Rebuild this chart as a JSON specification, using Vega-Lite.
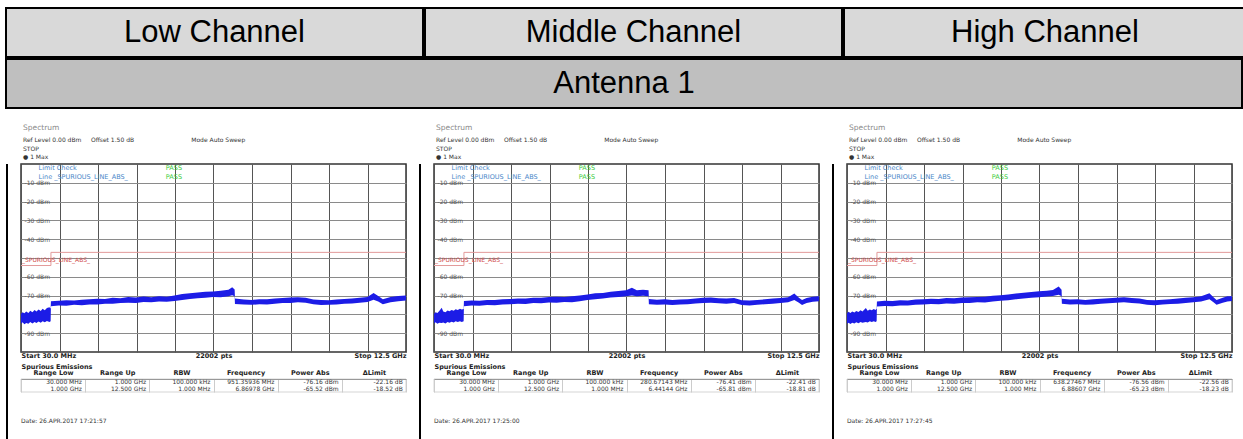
{
  "$schema": "https://vega.github.io/schema/vega-lite/v6.json",
  "padding": {"left": 5, "top": 7, "right": 0, "bottom": 0},
  "background": "white",
  "spacing": 0,
  "config": {
    "title": {"anchor": "start", "font": "DejaVu Sans", "fontSize": 7.5, "fontWeight": "normal", "color": "#8a8a8a", "lineHeight": 13, "offset": 0, "subtitleFont": "DejaVu Sans", "subtitleFontSize": 6, "subtitleColor": "#333333", "subtitleLineHeight": 8.5, "subtitlePadding": 6, "dx": 4},
    "axis": {"labelFont": "DejaVu Sans", "titleFont": "DejaVu Sans"},
    "text": {"font": "DejaVu Sans"}
  },
  "datasets": {
    "limit": [{"f": 0.03, "lim": -54}, {"f": 1.0, "lim": -47}, {"f": 12.5, "lim": -47}],
    "emis": [
      {"ch": "L", "r": 1, "Range Low": "30.000 MHz", "Range Up": "1.000 GHz", "RBW": "100.000 kHz", "Frequency": "951.35936 MHz", "Power Abs": "-76.16 dBm", "ΔLimit": "-22.16 dB"},
      {"ch": "L", "r": 2, "Range Low": "1.000 GHz", "Range Up": "12.500 GHz", "RBW": "1.000 MHz", "Frequency": "6.86978 GHz", "Power Abs": "-65.52 dBm", "ΔLimit": "-18.52 dB"},
      {"ch": "M", "r": 1, "Range Low": "30.000 MHz", "Range Up": "1.000 GHz", "RBW": "100.000 kHz", "Frequency": "280.67143 MHz", "Power Abs": "-76.41 dBm", "ΔLimit": "-22.41 dB"},
      {"ch": "M", "r": 2, "Range Low": "1.000 GHz", "Range Up": "12.500 GHz", "RBW": "1.000 MHz", "Frequency": "6.44144 GHz", "Power Abs": "-65.81 dBm", "ΔLimit": "-18.81 dB"},
      {"ch": "H", "r": 1, "Range Low": "30.000 MHz", "Range Up": "1.000 GHz", "RBW": "100.000 kHz", "Frequency": "638.27467 MHz", "Power Abs": "-76.56 dBm", "ΔLimit": "-22.56 dB"},
      {"ch": "H", "r": 2, "Range Low": "1.000 GHz", "Range Up": "12.500 GHz", "RBW": "1.000 MHz", "Frequency": "6.88607 GHz", "Power Abs": "-65.23 dBm", "ΔLimit": "-18.23 dB"}
    ],
    "trace": [
      {"ch":"L","f":0.03,"lo":-85.0,"hi":-79.6},{"ch":"L","f":0.08,"lo":-84.2,"hi":-78.8},{"ch":"L","f":0.14,"lo":-85.2,"hi":-79.4},{"ch":"L","f":0.2,"lo":-84.6,"hi":-78.4},{"ch":"L","f":0.27,"lo":-85.0,"hi":-79.2},{"ch":"L","f":0.33,"lo":-84.1,"hi":-78.0},{"ch":"L","f":0.4,"lo":-84.8,"hi":-78.9},{"ch":"L","f":0.47,"lo":-84.0,"hi":-77.6},{"ch":"L","f":0.53,"lo":-84.6,"hi":-78.5},{"ch":"L","f":0.6,"lo":-83.8,"hi":-77.4},{"ch":"L","f":0.67,"lo":-84.4,"hi":-78.2},{"ch":"L","f":0.73,"lo":-83.6,"hi":-77.0},{"ch":"L","f":0.8,"lo":-84.2,"hi":-77.8},{"ch":"L","f":0.87,"lo":-83.5,"hi":-76.6},{"ch":"L","f":0.95,"lo":-84.0,"hi":-76.2},{"ch":"L","f":0.99,"lo":-83.6,"hi":-76.8},
      {"ch":"L","f":1.0,"lo":-75.6,"hi":-73.0},{"ch":"L","f":1.25,"lo":-75.2,"hi":-72.8},{"ch":"L","f":1.5,"lo":-75.4,"hi":-72.5},{"ch":"L","f":1.75,"lo":-74.9,"hi":-72.6},{"ch":"L","f":2.0,"lo":-75.1,"hi":-72.2},{"ch":"L","f":2.25,"lo":-74.7,"hi":-72.0},{"ch":"L","f":2.5,"lo":-74.8,"hi":-71.7},{"ch":"L","f":2.75,"lo":-74.3,"hi":-71.8},{"ch":"L","f":3.0,"lo":-74.4,"hi":-71.2},{"ch":"L","f":3.25,"lo":-74.0,"hi":-71.4},{"ch":"L","f":3.5,"lo":-73.8,"hi":-70.8},{"ch":"L","f":3.75,"lo":-73.9,"hi":-71.0},{"ch":"L","f":4.0,"lo":-73.4,"hi":-70.5},{"ch":"L","f":4.25,"lo":-73.5,"hi":-70.9},{"ch":"L","f":4.5,"lo":-73.2,"hi":-70.3},{"ch":"L","f":4.75,"lo":-73.3,"hi":-70.6},{"ch":"L","f":5.0,"lo":-72.9,"hi":-69.9},{"ch":"L","f":5.25,"lo":-72.3,"hi":-69.2},{"ch":"L","f":5.5,"lo":-71.8,"hi":-68.8},{"ch":"L","f":5.75,"lo":-71.4,"hi":-68.4},{"ch":"L","f":6.0,"lo":-71.2,"hi":-67.9},{"ch":"L","f":6.25,"lo":-70.8,"hi":-67.8},{"ch":"L","f":6.5,"lo":-70.9,"hi":-67.4},{"ch":"L","f":6.75,"lo":-70.3,"hi":-66.9},{"ch":"L","f":6.87,"lo":-69.8,"hi":-65.5},{"ch":"L","f":6.95,"lo":-70.4,"hi":-66.8},
      {"ch":"L","f":6.96,"lo":-74.5,"hi":-71.6},{"ch":"L","f":7.25,"lo":-74.7,"hi":-72.1},{"ch":"L","f":7.5,"lo":-74.9,"hi":-72.3},{"ch":"L","f":7.75,"lo":-74.6,"hi":-71.9},{"ch":"L","f":8.0,"lo":-74.8,"hi":-72.0},{"ch":"L","f":8.25,"lo":-74.3,"hi":-71.6},{"ch":"L","f":8.5,"lo":-74.0,"hi":-71.3},{"ch":"L","f":8.75,"lo":-73.9,"hi":-71.0},{"ch":"L","f":9.0,"lo":-73.6,"hi":-70.9},{"ch":"L","f":9.25,"lo":-73.8,"hi":-71.2},{"ch":"L","f":9.5,"lo":-74.6,"hi":-72.1},{"ch":"L","f":9.75,"lo":-75.0,"hi":-72.4},{"ch":"L","f":10.0,"lo":-74.9,"hi":-72.5},{"ch":"L","f":10.25,"lo":-74.7,"hi":-72.1},{"ch":"L","f":10.5,"lo":-74.4,"hi":-71.8},{"ch":"L","f":10.75,"lo":-74.2,"hi":-71.6},{"ch":"L","f":11.0,"lo":-73.8,"hi":-71.2},{"ch":"L","f":11.25,"lo":-73.4,"hi":-70.8},{"ch":"L","f":11.45,"lo":-72.2,"hi":-68.6},{"ch":"L","f":11.6,"lo":-73.2,"hi":-70.2},{"ch":"L","f":11.75,"lo":-74.6,"hi":-72.0},{"ch":"L","f":12.0,"lo":-73.6,"hi":-70.7},{"ch":"L","f":12.25,"lo":-73.0,"hi":-70.2},{"ch":"L","f":12.5,"lo":-72.6,"hi":-70.0},

      {"ch":"M","f":0.03,"lo":-84.8,"hi":-79.8},{"ch":"M","f":0.08,"lo":-84.2,"hi":-78.9},{"ch":"M","f":0.14,"lo":-85.0,"hi":-79.3},{"ch":"M","f":0.2,"lo":-84.4,"hi":-78.2},{"ch":"M","f":0.28,"lo":-84.6,"hi":-76.4},{"ch":"M","f":0.33,"lo":-84.3,"hi":-78.4},{"ch":"M","f":0.4,"lo":-84.8,"hi":-78.8},{"ch":"M","f":0.47,"lo":-84.0,"hi":-77.9},{"ch":"M","f":0.53,"lo":-84.5,"hi":-78.3},{"ch":"M","f":0.6,"lo":-83.9,"hi":-77.6},{"ch":"M","f":0.67,"lo":-84.3,"hi":-78.1},{"ch":"M","f":0.73,"lo":-83.7,"hi":-77.2},{"ch":"M","f":0.8,"lo":-84.1,"hi":-77.7},{"ch":"M","f":0.87,"lo":-83.6,"hi":-77.0},{"ch":"M","f":0.93,"lo":-84.0,"hi":-77.4},{"ch":"M","f":0.99,"lo":-83.7,"hi":-77.1},
      {"ch":"M","f":1.0,"lo":-75.6,"hi":-72.9},{"ch":"M","f":1.25,"lo":-75.3,"hi":-72.6},{"ch":"M","f":1.5,"lo":-75.4,"hi":-72.7},{"ch":"M","f":1.75,"lo":-75.0,"hi":-72.3},{"ch":"M","f":2.0,"lo":-75.1,"hi":-72.4},{"ch":"M","f":2.25,"lo":-74.8,"hi":-71.9},{"ch":"M","f":2.5,"lo":-74.6,"hi":-71.8},{"ch":"M","f":2.75,"lo":-74.4,"hi":-71.5},{"ch":"M","f":3.0,"lo":-74.5,"hi":-71.6},{"ch":"M","f":3.25,"lo":-74.0,"hi":-71.1},{"ch":"M","f":3.5,"lo":-74.1,"hi":-71.2},{"ch":"M","f":3.75,"lo":-73.7,"hi":-70.8},{"ch":"M","f":4.0,"lo":-73.8,"hi":-70.6},{"ch":"M","f":4.25,"lo":-73.4,"hi":-70.7},{"ch":"M","f":4.5,"lo":-73.5,"hi":-70.4},{"ch":"M","f":4.75,"lo":-73.0,"hi":-69.9},{"ch":"M","f":5.0,"lo":-72.4,"hi":-69.4},{"ch":"M","f":5.25,"lo":-71.9,"hi":-68.8},{"ch":"M","f":5.5,"lo":-71.6,"hi":-68.6},{"ch":"M","f":5.75,"lo":-71.0,"hi":-67.9},{"ch":"M","f":6.0,"lo":-70.8,"hi":-67.5},{"ch":"M","f":6.25,"lo":-70.4,"hi":-67.2},{"ch":"M","f":6.44,"lo":-69.9,"hi":-65.8},{"ch":"M","f":6.6,"lo":-70.3,"hi":-67.1},{"ch":"M","f":6.8,"lo":-70.1,"hi":-66.9},{"ch":"M","f":6.98,"lo":-70.4,"hi":-67.2},
      {"ch":"M","f":6.99,"lo":-74.6,"hi":-71.8},{"ch":"M","f":7.25,"lo":-74.9,"hi":-72.2},{"ch":"M","f":7.5,"lo":-74.7,"hi":-72.0},{"ch":"M","f":7.75,"lo":-75.0,"hi":-72.4},{"ch":"M","f":8.0,"lo":-74.8,"hi":-72.1},{"ch":"M","f":8.25,"lo":-74.6,"hi":-71.9},{"ch":"M","f":8.5,"lo":-74.2,"hi":-71.5},{"ch":"M","f":8.75,"lo":-74.0,"hi":-71.2},{"ch":"M","f":9.0,"lo":-73.8,"hi":-71.0},{"ch":"M","f":9.25,"lo":-74.1,"hi":-71.4},{"ch":"M","f":9.5,"lo":-74.3,"hi":-71.6},{"ch":"M","f":9.75,"lo":-74.0,"hi":-71.3},{"ch":"M","f":10.0,"lo":-75.0,"hi":-72.5},{"ch":"M","f":10.25,"lo":-75.2,"hi":-72.6},{"ch":"M","f":10.5,"lo":-74.9,"hi":-72.3},{"ch":"M","f":10.75,"lo":-74.6,"hi":-72.0},{"ch":"M","f":11.0,"lo":-74.3,"hi":-71.6},{"ch":"M","f":11.25,"lo":-73.9,"hi":-71.3},{"ch":"M","f":11.5,"lo":-73.6,"hi":-70.9},{"ch":"M","f":11.7,"lo":-72.3,"hi":-68.9},{"ch":"M","f":11.85,"lo":-73.8,"hi":-71.2},{"ch":"M","f":11.95,"lo":-75.0,"hi":-72.4},{"ch":"M","f":12.1,"lo":-73.9,"hi":-71.3},{"ch":"M","f":12.3,"lo":-73.3,"hi":-70.6},{"ch":"M","f":12.5,"lo":-73.0,"hi":-70.4},

      {"ch":"H","f":0.03,"lo":-85.0,"hi":-79.4},{"ch":"H","f":0.08,"lo":-84.4,"hi":-78.6},{"ch":"H","f":0.14,"lo":-85.1,"hi":-79.2},{"ch":"H","f":0.2,"lo":-84.5,"hi":-78.5},{"ch":"H","f":0.27,"lo":-84.9,"hi":-79.0},{"ch":"H","f":0.33,"lo":-84.2,"hi":-78.2},{"ch":"H","f":0.4,"lo":-84.7,"hi":-78.7},{"ch":"H","f":0.47,"lo":-84.1,"hi":-77.8},{"ch":"H","f":0.53,"lo":-84.5,"hi":-78.4},{"ch":"H","f":0.64,"lo":-84.0,"hi":-76.6},{"ch":"H","f":0.7,"lo":-84.3,"hi":-78.0},{"ch":"H","f":0.77,"lo":-83.7,"hi":-77.4},{"ch":"H","f":0.83,"lo":-84.1,"hi":-77.8},{"ch":"H","f":0.9,"lo":-83.6,"hi":-77.1},{"ch":"H","f":0.95,"lo":-84.0,"hi":-77.6},{"ch":"H","f":0.99,"lo":-83.7,"hi":-77.0},
      {"ch":"H","f":1.0,"lo":-75.8,"hi":-73.1},{"ch":"H","f":1.25,"lo":-75.5,"hi":-72.8},{"ch":"H","f":1.5,"lo":-75.6,"hi":-72.9},{"ch":"H","f":1.75,"lo":-75.2,"hi":-72.5},{"ch":"H","f":2.0,"lo":-75.3,"hi":-72.6},{"ch":"H","f":2.25,"lo":-74.9,"hi":-72.1},{"ch":"H","f":2.5,"lo":-74.7,"hi":-71.9},{"ch":"H","f":2.75,"lo":-74.5,"hi":-71.7},{"ch":"H","f":3.0,"lo":-74.6,"hi":-71.8},{"ch":"H","f":3.25,"lo":-74.2,"hi":-71.3},{"ch":"H","f":3.5,"lo":-74.3,"hi":-71.4},{"ch":"H","f":3.75,"lo":-73.9,"hi":-71.0},{"ch":"H","f":4.0,"lo":-74.0,"hi":-70.9},{"ch":"H","f":4.25,"lo":-73.6,"hi":-70.8},{"ch":"H","f":4.5,"lo":-73.7,"hi":-70.6},{"ch":"H","f":4.75,"lo":-73.2,"hi":-70.1},{"ch":"H","f":5.0,"lo":-72.8,"hi":-69.8},{"ch":"H","f":5.25,"lo":-72.5,"hi":-69.4},{"ch":"H","f":5.5,"lo":-72.0,"hi":-68.9},{"ch":"H","f":5.75,"lo":-71.6,"hi":-68.5},{"ch":"H","f":6.0,"lo":-71.2,"hi":-68.1},{"ch":"H","f":6.25,"lo":-70.9,"hi":-67.7},{"ch":"H","f":6.5,"lo":-70.5,"hi":-67.4},{"ch":"H","f":6.7,"lo":-70.2,"hi":-67.0},{"ch":"H","f":6.886,"lo":-69.6,"hi":-65.2},{"ch":"H","f":6.98,"lo":-70.3,"hi":-66.9},
      {"ch":"H","f":6.99,"lo":-74.4,"hi":-71.7},{"ch":"H","f":7.25,"lo":-74.8,"hi":-72.1},{"ch":"H","f":7.5,"lo":-74.6,"hi":-71.9},{"ch":"H","f":7.75,"lo":-74.9,"hi":-72.3},{"ch":"H","f":8.0,"lo":-74.7,"hi":-72.0},{"ch":"H","f":8.25,"lo":-74.4,"hi":-71.7},{"ch":"H","f":8.5,"lo":-74.1,"hi":-71.4},{"ch":"H","f":8.75,"lo":-73.8,"hi":-71.1},{"ch":"H","f":9.0,"lo":-73.6,"hi":-70.9},{"ch":"H","f":9.25,"lo":-73.9,"hi":-71.3},{"ch":"H","f":9.5,"lo":-74.2,"hi":-71.5},{"ch":"H","f":9.75,"lo":-74.9,"hi":-72.3},{"ch":"H","f":10.0,"lo":-75.1,"hi":-72.5},{"ch":"H","f":10.25,"lo":-74.8,"hi":-72.2},{"ch":"H","f":10.5,"lo":-74.5,"hi":-71.9},{"ch":"H","f":10.75,"lo":-74.3,"hi":-71.6},{"ch":"H","f":11.0,"lo":-73.9,"hi":-71.2},{"ch":"H","f":11.25,"lo":-73.6,"hi":-70.9},{"ch":"H","f":11.5,"lo":-73.2,"hi":-70.4},{"ch":"H","f":11.77,"lo":-72.0,"hi":-68.7},{"ch":"H","f":11.9,"lo":-73.5,"hi":-70.9},{"ch":"H","f":12.0,"lo":-74.9,"hi":-72.3},{"ch":"H","f":12.2,"lo":-73.8,"hi":-71.1},{"ch":"H","f":12.35,"lo":-73.1,"hi":-70.4},{"ch":"H","f":12.5,"lo":-72.9,"hi":-70.3}
    ]
  },
  "vconcat": [
    {
      "spacing": 0,
      "hconcat": [
        {"width": 417, "height": 49, "data": {"values": [{"t": "Low Channel"}]}, "mark": {"type": "text", "fontSize": 31, "font": "Liberation Sans", "color": "black"}, "encoding": {"text": {"field": "t"}}, "view": {"fill": "#d9d9d9", "stroke": "black", "strokeWidth": 2}},
        {"width": 417, "height": 49, "data": {"values": [{"t": "Middle Channel"}]}, "mark": {"type": "text", "fontSize": 31, "font": "Liberation Sans", "color": "black"}, "encoding": {"text": {"field": "t"}}, "view": {"fill": "#d9d9d9", "stroke": "black", "strokeWidth": 2}},
        {"width": 402, "height": 49, "data": {"values": [{"t": "High Channel"}]}, "mark": {"type": "text", "fontSize": 31, "font": "Liberation Sans", "color": "black"}, "encoding": {"text": {"field": "t"}}, "view": {"fill": "#d9d9d9", "stroke": "black", "strokeWidth": 2}}
      ]
    },
    {"width": 1236, "height": 49, "data": {"values": [{"t": "Antenna 1"}]}, "mark": {"type": "text", "fontSize": 31, "font": "Liberation Sans", "color": "black"}, "encoding": {"text": {"field": "t"}}, "view": {"fill": "#bfbfbf", "stroke": "black", "strokeWidth": 2}},
    {
      "spacing": 10,
      "hconcat": [
        {"width": 2, "height": 333, "data": {"values": [{"b": 0}]}, "mark": {"type": "rect", "color": "black"}, "encoding": {"x": {"datum": 0, "type": "quantitative", "scale": {"domain": [0, 1], "nice": false}, "axis": null}, "x2": {"datum": 1}, "y": {"datum": 0, "type": "quantitative", "scale": {"domain": [0, 1], "nice": false}, "axis": null}, "y2": {"datum": 1}}, "view": {"stroke": null}},
        {
          "spacing": 2,
          "vconcat": [
            {
              "width": 385, "height": 188,
              "title": {"text": ["", "Spectrum"], "subtitle": ["Ref Level 0.00 dBm\u00a0\u00a0\u00a0\u00a0\u00a0Offset 1.50 dB\u00a0\u00a0\u00a0\u00a0\u00a0\u00a0\u00a0\u00a0\u00a0\u00a0\u00a0\u00a0\u00a0\u00a0\u00a0\u00a0\u00a0\u00a0\u00a0\u00a0\u00a0\u00a0\u00a0\u00a0\u00a0\u00a0\u00a0\u00a0\u00a0\u00a0Mode Auto Sweep", "STOP", "● 1 Max"]},
              "view": {"stroke": "#333333", "strokeWidth": 1.5},
              "resolve": {"axis": {"x": "independent", "y": "independent"}},
              "layer": [
                {
                  "data": {"name": "trace"}, "transform": [{"filter": "datum.ch == 'L'"}],
                  "mark": {"type": "area", "color": "#1c1ce6", "clip": true},
                  "encoding": {
                    "x": {"field": "f", "type": "quantitative", "scale": {"domain": [0.03, 12.5], "nice": false, "zero": false},
                      "axis": {"values": [0.03, 1.277, 2.524, 3.771, 5.018, 6.265, 7.512, 8.759, 10.006, 11.253, 12.5], "grid": true, "gridColor": "#555555", "ticks": false, "tickSize": 0, "domain": false, "labelExpr": "datum.value < 0.1 ? 'Start 30.0 MHz' : (datum.value > 6.2 && datum.value < 6.3 ? '22002 pts' : (datum.value > 12.4 ? 'Stop 12.5 GHz' : ''))", "labelFlush": true, "labelOverlap": false, "labelFontSize": 6.5, "labelFontWeight": "bold", "labelColor": "#222222", "labelPadding": 0, "title": null}},
                    "y": {"field": "hi", "type": "quantitative", "scale": {"domain": [-100, 0], "nice": false, "zero": false},
                      "axis": {"values": [-10, -20, -30, -40, -50, -60, -70, -80, -90], "grid": true, "gridColor": "#8a8a8a", "ticks": false, "tickSize": 0, "domain": false, "labelAlign": "left", "labelBaseline": "middle", "labelPadding": -3, "labelOverlap": false, "labelExpr": "(datum.value == -50 || datum.value == -80) ? '' : datum.value + ' dBm'", "labelFontSize": 6, "labelColor": "#555555", "title": null}},
                    "y2": {"field": "lo"}
                  }
                },
                {"data": {"name": "limit"}, "mark": {"type": "line", "interpolate": "step-after", "color": "#e39a9a", "strokeWidth": 1}, "encoding": {"x": {"field": "f", "type": "quantitative", "axis": null}, "y": {"field": "lim", "type": "quantitative", "axis": null}}},
                {"data": {"values": [{}]}, "mark": {"type": "text", "text": "_SPURIOUS_LINE_ABS_", "align": "left", "dx": 1, "fontSize": 6, "color": "#d04a4a"}, "encoding": {"x": {"datum": 0.03, "axis": null}, "y": {"datum": -51, "axis": null}}},
                {"data": {"values": [{}]}, "mark": {"type": "text", "text": "Limit Check", "align": "left", "fontSize": 6.5, "color": "#4a86c8"}, "encoding": {"x": {"datum": 0.6, "axis": null}, "y": {"datum": -2.3, "axis": null}}},
                {"data": {"values": [{}]}, "mark": {"type": "text", "text": "Line _SPURIOUS_LINE_ABS_", "align": "left", "fontSize": 6.5, "color": "#4a86c8"}, "encoding": {"x": {"datum": 0.6, "axis": null}, "y": {"datum": -6.7, "axis": null}}},
                {"data": {"values": [{}]}, "mark": {"type": "text", "text": "PASS", "align": "left", "fontSize": 6.5, "color": "#3ccc3c"}, "encoding": {"x": {"datum": 4.72, "axis": null}, "y": {"datum": -2.3, "axis": null}}},
                {"data": {"values": [{}]}, "mark": {"type": "text", "text": "PASS", "align": "left", "fontSize": 6.5, "color": "#3ccc3c"}, "encoding": {"x": {"datum": 4.72, "axis": null}, "y": {"datum": -6.7, "axis": null}}}
              ]
            },
            {
              "width": 385, "height": 13,
              "title": {"text": "Date: 26.APR.2017  17:21:57", "orient": "bottom", "offset": 26, "fontSize": 6, "color": "#333333", "lineHeight": 8, "dx": 0},
              "view": {"stroke": "#aaaaaa", "strokeWidth": 0.5},
              "data": {"name": "emis"},
              "transform": [{"filter": "datum.ch == 'L'"}, {"fold": ["Range Low", "Range Up", "RBW", "Frequency", "Power Abs", "ΔLimit"], "as": ["col", "val"]}],
              "mark": {"type": "text", "align": "right", "fontSize": 6, "color": "#333333"},
              "encoding": {
                "x": {"field": "col", "type": "nominal", "sort": ["Range Low", "Range Up", "RBW", "Frequency", "Power Abs", "ΔLimit"], "bandPosition": 0.95, "scale": {"paddingInner": 0, "paddingOuter": 0},
                  "axis": {"orient": "top", "title": "Spurious Emissions", "titleAnchor": "start", "titleFontWeight": "bold", "titleFontSize": 6.5, "titleColor": "#222222", "titlePadding": 0, "labelFontWeight": "bold", "labelFontSize": 6.5, "labelColor": "#222222", "labelAngle": 0, "labelPadding": 4, "ticks": false, "tickSize": 0, "tickBand": "extent", "domainColor": "#999999", "grid": true, "gridColor": "#cccccc"}},
                "y": {"field": "r", "type": "ordinal", "axis": null},
                "text": {"field": "val"}
              }
            }
          ]
        },
        {"width": 2, "height": 333, "data": {"values": [{"b": 0}]}, "mark": {"type": "rect", "color": "black"}, "encoding": {"x": {"datum": 0, "type": "quantitative", "scale": {"domain": [0, 1], "nice": false}, "axis": null}, "x2": {"datum": 1}, "y": {"datum": 0, "type": "quantitative", "scale": {"domain": [0, 1], "nice": false}, "axis": null}, "y2": {"datum": 1}}, "view": {"stroke": null}},
        {
          "spacing": 2,
          "vconcat": [
            {
              "width": 385, "height": 188,
              "title": {"text": ["", "Spectrum"], "subtitle": ["Ref Level 0.00 dBm\u00a0\u00a0\u00a0\u00a0\u00a0Offset 1.50 dB\u00a0\u00a0\u00a0\u00a0\u00a0\u00a0\u00a0\u00a0\u00a0\u00a0\u00a0\u00a0\u00a0\u00a0\u00a0\u00a0\u00a0\u00a0\u00a0\u00a0\u00a0\u00a0\u00a0\u00a0\u00a0\u00a0\u00a0\u00a0\u00a0\u00a0Mode Auto Sweep", "STOP", "● 1 Max"]},
              "view": {"stroke": "#333333", "strokeWidth": 1.5},
              "resolve": {"axis": {"x": "independent", "y": "independent"}},
              "layer": [
                {
                  "data": {"name": "trace"}, "transform": [{"filter": "datum.ch == 'M'"}],
                  "mark": {"type": "area", "color": "#1c1ce6", "clip": true},
                  "encoding": {
                    "x": {"field": "f", "type": "quantitative", "scale": {"domain": [0.03, 12.5], "nice": false, "zero": false},
                      "axis": {"values": [0.03, 1.277, 2.524, 3.771, 5.018, 6.265, 7.512, 8.759, 10.006, 11.253, 12.5], "grid": true, "gridColor": "#555555", "ticks": false, "tickSize": 0, "domain": false, "labelExpr": "datum.value < 0.1 ? 'Start 30.0 MHz' : (datum.value > 6.2 && datum.value < 6.3 ? '22002 pts' : (datum.value > 12.4 ? 'Stop 12.5 GHz' : ''))", "labelFlush": true, "labelOverlap": false, "labelFontSize": 6.5, "labelFontWeight": "bold", "labelColor": "#222222", "labelPadding": 0, "title": null}},
                    "y": {"field": "hi", "type": "quantitative", "scale": {"domain": [-100, 0], "nice": false, "zero": false},
                      "axis": {"values": [-10, -20, -30, -40, -50, -60, -70, -80, -90], "grid": true, "gridColor": "#8a8a8a", "ticks": false, "tickSize": 0, "domain": false, "labelAlign": "left", "labelBaseline": "middle", "labelPadding": -3, "labelOverlap": false, "labelExpr": "(datum.value == -50 || datum.value == -80) ? '' : datum.value + ' dBm'", "labelFontSize": 6, "labelColor": "#555555", "title": null}},
                    "y2": {"field": "lo"}
                  }
                },
                {"data": {"name": "limit"}, "mark": {"type": "line", "interpolate": "step-after", "color": "#e39a9a", "strokeWidth": 1}, "encoding": {"x": {"field": "f", "type": "quantitative", "axis": null}, "y": {"field": "lim", "type": "quantitative", "axis": null}}},
                {"data": {"values": [{}]}, "mark": {"type": "text", "text": "_SPURIOUS_LINE_ABS_", "align": "left", "dx": 1, "fontSize": 6, "color": "#d04a4a"}, "encoding": {"x": {"datum": 0.03, "axis": null}, "y": {"datum": -51, "axis": null}}},
                {"data": {"values": [{}]}, "mark": {"type": "text", "text": "Limit Check", "align": "left", "fontSize": 6.5, "color": "#4a86c8"}, "encoding": {"x": {"datum": 0.6, "axis": null}, "y": {"datum": -2.3, "axis": null}}},
                {"data": {"values": [{}]}, "mark": {"type": "text", "text": "Line _SPURIOUS_LINE_ABS_", "align": "left", "fontSize": 6.5, "color": "#4a86c8"}, "encoding": {"x": {"datum": 0.6, "axis": null}, "y": {"datum": -6.7, "axis": null}}},
                {"data": {"values": [{}]}, "mark": {"type": "text", "text": "PASS", "align": "left", "fontSize": 6.5, "color": "#3ccc3c"}, "encoding": {"x": {"datum": 4.72, "axis": null}, "y": {"datum": -2.3, "axis": null}}},
                {"data": {"values": [{}]}, "mark": {"type": "text", "text": "PASS", "align": "left", "fontSize": 6.5, "color": "#3ccc3c"}, "encoding": {"x": {"datum": 4.72, "axis": null}, "y": {"datum": -6.7, "axis": null}}}
              ]
            },
            {
              "width": 385, "height": 13,
              "title": {"text": "Date: 26.APR.2017  17:25:00", "orient": "bottom", "offset": 26, "fontSize": 6, "color": "#333333", "lineHeight": 8, "dx": 0},
              "view": {"stroke": "#aaaaaa", "strokeWidth": 0.5},
              "data": {"name": "emis"},
              "transform": [{"filter": "datum.ch == 'M'"}, {"fold": ["Range Low", "Range Up", "RBW", "Frequency", "Power Abs", "ΔLimit"], "as": ["col", "val"]}],
              "mark": {"type": "text", "align": "right", "fontSize": 6, "color": "#333333"},
              "encoding": {
                "x": {"field": "col", "type": "nominal", "sort": ["Range Low", "Range Up", "RBW", "Frequency", "Power Abs", "ΔLimit"], "bandPosition": 0.95, "scale": {"paddingInner": 0, "paddingOuter": 0},
                  "axis": {"orient": "top", "title": "Spurious Emissions", "titleAnchor": "start", "titleFontWeight": "bold", "titleFontSize": 6.5, "titleColor": "#222222", "titlePadding": 0, "labelFontWeight": "bold", "labelFontSize": 6.5, "labelColor": "#222222", "labelAngle": 0, "labelPadding": 4, "ticks": false, "tickSize": 0, "tickBand": "extent", "domainColor": "#999999", "grid": true, "gridColor": "#cccccc"}},
                "y": {"field": "r", "type": "ordinal", "axis": null},
                "text": {"field": "val"}
              }
            }
          ]
        },
        {"width": 2, "height": 333, "data": {"values": [{"b": 0}]}, "mark": {"type": "rect", "color": "black"}, "encoding": {"x": {"datum": 0, "type": "quantitative", "scale": {"domain": [0, 1], "nice": false}, "axis": null}, "x2": {"datum": 1}, "y": {"datum": 0, "type": "quantitative", "scale": {"domain": [0, 1], "nice": false}, "axis": null}, "y2": {"datum": 1}}, "view": {"stroke": null}},
        {
          "spacing": 2,
          "vconcat": [
            {
              "width": 385, "height": 188,
              "title": {"text": ["", "Spectrum"], "subtitle": ["Ref Level 0.00 dBm\u00a0\u00a0\u00a0\u00a0\u00a0Offset 1.50 dB\u00a0\u00a0\u00a0\u00a0\u00a0\u00a0\u00a0\u00a0\u00a0\u00a0\u00a0\u00a0\u00a0\u00a0\u00a0\u00a0\u00a0\u00a0\u00a0\u00a0\u00a0\u00a0\u00a0\u00a0\u00a0\u00a0\u00a0\u00a0\u00a0\u00a0Mode Auto Sweep", "STOP", "● 1 Max"]},
              "view": {"stroke": "#333333", "strokeWidth": 1.5},
              "resolve": {"axis": {"x": "independent", "y": "independent"}},
              "layer": [
                {
                  "data": {"name": "trace"}, "transform": [{"filter": "datum.ch == 'H'"}],
                  "mark": {"type": "area", "color": "#1c1ce6", "clip": true},
                  "encoding": {
                    "x": {"field": "f", "type": "quantitative", "scale": {"domain": [0.03, 12.5], "nice": false, "zero": false},
                      "axis": {"values": [0.03, 1.277, 2.524, 3.771, 5.018, 6.265, 7.512, 8.759, 10.006, 11.253, 12.5], "grid": true, "gridColor": "#555555", "ticks": false, "tickSize": 0, "domain": false, "labelExpr": "datum.value < 0.1 ? 'Start 30.0 MHz' : (datum.value > 6.2 && datum.value < 6.3 ? '22002 pts' : (datum.value > 12.4 ? 'Stop 12.5 GHz' : ''))", "labelFlush": true, "labelOverlap": false, "labelFontSize": 6.5, "labelFontWeight": "bold", "labelColor": "#222222", "labelPadding": 0, "title": null}},
                    "y": {"field": "hi", "type": "quantitative", "scale": {"domain": [-100, 0], "nice": false, "zero": false},
                      "axis": {"values": [-10, -20, -30, -40, -50, -60, -70, -80, -90], "grid": true, "gridColor": "#8a8a8a", "ticks": false, "tickSize": 0, "domain": false, "labelAlign": "left", "labelBaseline": "middle", "labelPadding": -3, "labelOverlap": false, "labelExpr": "(datum.value == -50 || datum.value == -80) ? '' : datum.value + ' dBm'", "labelFontSize": 6, "labelColor": "#555555", "title": null}},
                    "y2": {"field": "lo"}
                  }
                },
                {"data": {"name": "limit"}, "mark": {"type": "line", "interpolate": "step-after", "color": "#e39a9a", "strokeWidth": 1}, "encoding": {"x": {"field": "f", "type": "quantitative", "axis": null}, "y": {"field": "lim", "type": "quantitative", "axis": null}}},
                {"data": {"values": [{}]}, "mark": {"type": "text", "text": "_SPURIOUS_LINE_ABS_", "align": "left", "dx": 1, "fontSize": 6, "color": "#d04a4a"}, "encoding": {"x": {"datum": 0.03, "axis": null}, "y": {"datum": -51, "axis": null}}},
                {"data": {"values": [{}]}, "mark": {"type": "text", "text": "Limit Check", "align": "left", "fontSize": 6.5, "color": "#4a86c8"}, "encoding": {"x": {"datum": 0.6, "axis": null}, "y": {"datum": -2.3, "axis": null}}},
                {"data": {"values": [{}]}, "mark": {"type": "text", "text": "Line _SPURIOUS_LINE_ABS_", "align": "left", "fontSize": 6.5, "color": "#4a86c8"}, "encoding": {"x": {"datum": 0.6, "axis": null}, "y": {"datum": -6.7, "axis": null}}},
                {"data": {"values": [{}]}, "mark": {"type": "text", "text": "PASS", "align": "left", "fontSize": 6.5, "color": "#3ccc3c"}, "encoding": {"x": {"datum": 4.72, "axis": null}, "y": {"datum": -2.3, "axis": null}}},
                {"data": {"values": [{}]}, "mark": {"type": "text", "text": "PASS", "align": "left", "fontSize": 6.5, "color": "#3ccc3c"}, "encoding": {"x": {"datum": 4.72, "axis": null}, "y": {"datum": -6.7, "axis": null}}}
              ]
            },
            {
              "width": 385, "height": 13,
              "title": {"text": "Date: 26.APR.2017  17:27:45", "orient": "bottom", "offset": 26, "fontSize": 6, "color": "#333333", "lineHeight": 8, "dx": 0},
              "view": {"stroke": "#aaaaaa", "strokeWidth": 0.5},
              "data": {"name": "emis"},
              "transform": [{"filter": "datum.ch == 'H'"}, {"fold": ["Range Low", "Range Up", "RBW", "Frequency", "Power Abs", "ΔLimit"], "as": ["col", "val"]}],
              "mark": {"type": "text", "align": "right", "fontSize": 6, "color": "#333333"},
              "encoding": {
                "x": {"field": "col", "type": "nominal", "sort": ["Range Low", "Range Up", "RBW", "Frequency", "Power Abs", "ΔLimit"], "bandPosition": 0.95, "scale": {"paddingInner": 0, "paddingOuter": 0},
                  "axis": {"orient": "top", "title": "Spurious Emissions", "titleAnchor": "start", "titleFontWeight": "bold", "titleFontSize": 6.5, "titleColor": "#222222", "titlePadding": 0, "labelFontWeight": "bold", "labelFontSize": 6.5, "labelColor": "#222222", "labelAngle": 0, "labelPadding": 4, "ticks": false, "tickSize": 0, "tickBand": "extent", "domainColor": "#999999", "grid": true, "gridColor": "#cccccc"}},
                "y": {"field": "r", "type": "ordinal", "axis": null},
                "text": {"field": "val"}
              }
            }
          ]
        }
      ]
    }
  ]
}
